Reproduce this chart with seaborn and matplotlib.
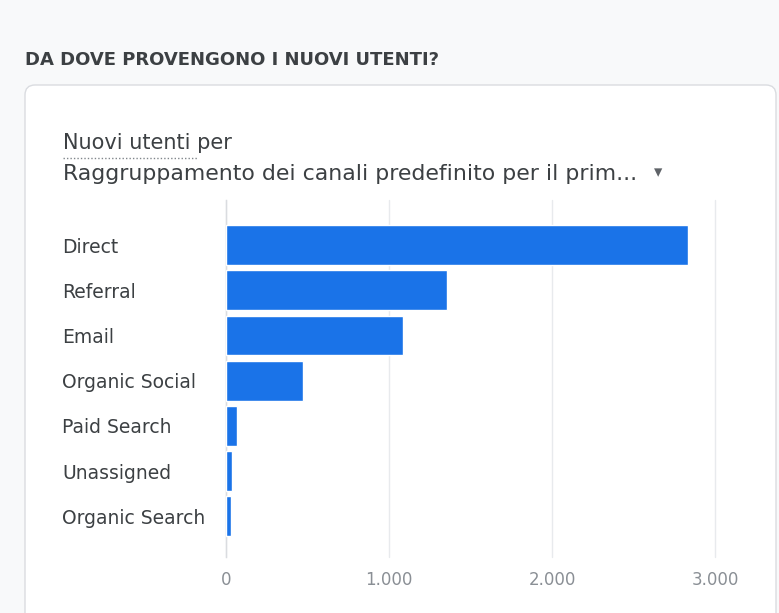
import matplotlib
matplotlib.use('Agg')
import matplotlib.pyplot as plt
from matplotlib.patches import FancyBboxPatch
from matplotlib.lines import Line2D
from matplotlib.ticker import FuncFormatter
import seaborn as sns

# Data
channels = ['Direct', 'Referral', 'Email', 'Organic Social', 'Paid Search', 'Unassigned', 'Organic Search']
new_users = [2835, 1355, 1085, 475, 65, 37, 30]
x_ticks = [0, 1000, 2000, 3000]

sns.set_theme(style='white')
plt.rcParams['font.family'] = ['DejaVu Sans']

W, H = 779, 613
fig = plt.figure(figsize=(W / 100, H / 100), dpi=100)
fig.patch.set_facecolor('#f8f9fa')

# card background
card = FancyBboxPatch((25 / 100, -0.2), (776 - 25) / 100, (H - 85) / 100 + 0.2,
                      boxstyle='round,pad=0,rounding_size=0.1',
                      transform=fig.dpi_scale_trans, facecolor='white',
                      edgecolor='#dadce0', linewidth=1.0, zorder=-5)
fig.patches.append(card)

def fy(px):
    return 1 - px / H

fig.text(25 / W, fy(60), 'DA DOVE PROVENGONO I NUOVI UTENTI?', fontsize=13,
         fontweight='bold', color='#3c4043', va='center', ha='left')
fig.text(63 / W, fy(143), 'Nuovi utenti per', fontsize=15, color='#3c4043',
         va='center', ha='left')
fig.add_artist(Line2D([63 / W, 197 / W], [fy(158), fy(158)], color='#80868b',
                      linestyle=(0, (1, 1.5)), linewidth=1))
fig.text(63 / W, fy(174), 'Raggruppamento dei canali predefinito per il prim...',
         fontsize=15.8, color='#3c4043', va='center', ha='left')
fig.text(658 / W, fy(172), '\u25BE', fontsize=12, color='#5f6368', va='center',
         ha='center')

ax = fig.add_axes([226 / W, fy(557), (715 - 226) / W, (557 - 200) / H])
ax.set_facecolor('none')
sns.barplot(x=new_users, y=channels, orient='h', color='#1a73e8', saturation=1,
            width=0.88, ax=ax, zorder=3)

ax.set_xlim(0, 3000)
ax.set_ylim(6.9, -1)
ax.set_xticks(x_ticks)
ax.xaxis.set_major_formatter(FuncFormatter(lambda v, p: f'{int(v):,}'.replace(',', '.')))
ax.grid(axis='x', color='#e8eaed', linewidth=1, zorder=0)
for gl in ax.get_xgridlines():
    gl.set_clip_on(False)
for s in ['top', 'right', 'bottom']:
    ax.spines[s].set_visible(False)
ax.spines['left'].set_color('#dadce0')
ax.spines['left'].set_linewidth(1)

ax.tick_params(axis='x', length=0, pad=10, labelsize=12, labelcolor='#8a8f95')
ax.tick_params(axis='y', length=5, width=0.8, color='#dadce0', pad=113,
               labelsize=13.5, labelcolor='#3c4043')
for lab in ax.get_yticklabels():
    lab.set_ha('left')
    lab.set_va('center_baseline')
ax.set_xlabel('')
ax.set_ylabel('')

fig.savefig('out.png', dpi=100, facecolor=fig.get_facecolor())
